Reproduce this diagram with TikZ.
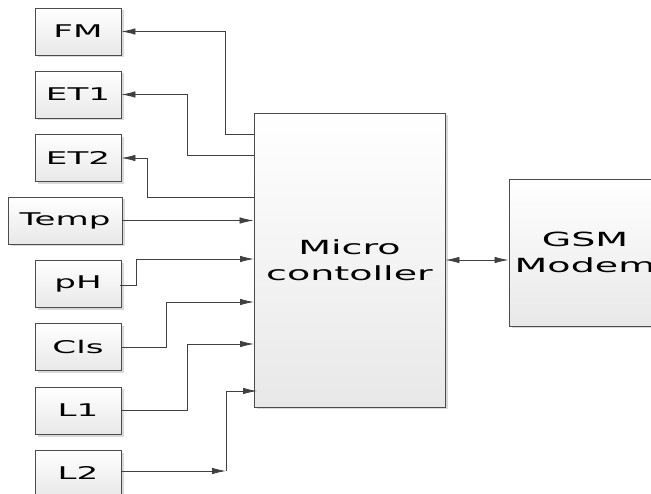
\documentclass[tikz,border=0pt]{standalone}
\usepackage{fontspec}
\usepackage{tikz}
\usetikzlibrary{arrows.meta,shadows,calc}
\newfontfamily\blockfont[FakeStretch=1.95]{DejaVu Sans}

\begin{document}
\begin{tikzpicture}[x=1pt, y=-1pt]
\tikzstyle{main}=[rectangle, draw=black!70, line width=0.9pt, top color=white, bottom color=black!9,
  drop shadow={shadow xshift=2.5pt, shadow yshift=-2.5pt, fill=black!15, opacity=1},
  font=\blockfont\fontsize{17.5}{20}\selectfont, minimum width=86pt, minimum height=47pt, inner sep=0pt]
\tikzstyle{wide}=[main, minimum width=114pt]
\tikzstyle{big}=[main, font=\blockfont\fontsize{19.5}{26}\selectfont, align=center]
\tikzstyle{connect}=[-{Latex[length=14pt,width=6.5pt]}, draw=black!75, line width=0.8pt]

  \useasboundingbox (0,0) rectangle (651,494);

  % sensors and outputs
  \node[main] (FM)   at (78,31.5)  {FM};
  \node[main] (ET1)  at (78,94.5)  {ET1};
  \node[main] (ET2)  at (78,158)   {ET2};
  \node[wide] (Temp) at (65,220.5) {Temp};
  \node[main] (pH)   at (78,284)   {pH};
  \node[main] (Cls)  at (78,347)   {Cls};
  \node[main] (L1)   at (78,410.5) {L1};
  \node[main] (L2)   at (78,473.5) {L2};

  \node[big, minimum width=191pt, minimum height=294pt] (micro) at (349.5,260) {Micro\\contoller};
  \node[big, minimum width=152pt, minimum height=147pt] (gsm)   at (585,252.5) {GSM\\Modem};

  % pins on the controller
  \coordinate (pFM)  at (254,134);
  \coordinate (pET1) at (254,155);
  \coordinate (pET2) at (254,197);
  \coordinate (pPH)  at (254,259);
  \coordinate (pCls) at (254,302);
  \coordinate (pL1)  at (254,344);
  \coordinate (pL2)  at (257,391);
  \coordinate (kL2)  at (226,471);

  \draw[connect] (pFM)  -- ++(-29,0)  |- (FM.east);
  \draw[connect] (pET1) -- ++(-67,0)  |- (ET1.east);
  \draw[connect] (pET2) -- ++(-107,0) |- (ET2.east);
  \draw[connect] (Temp.east) -- (Temp.east -| micro.west);
  \draw[connect] ($(pH.east)+(-1,1)$) -- ++(16,0) |- (pPH);
  \draw[connect] (Cls.east) -- ++(45,0) |- (pCls);
  \draw[connect] (L1.east)  -- ++(66,0) |- (pL1);
  \draw[connect] (L2.east |- kL2) -- (kL2);
  \draw[connect] (kL2) |- (pL2);

  \draw[connect, {Latex[length=14pt,width=6.5pt]}-{Latex[length=14pt,width=6.5pt]}] (micro.east) -- (micro.east -| gsm.west);

\end{tikzpicture}
\end{document}
